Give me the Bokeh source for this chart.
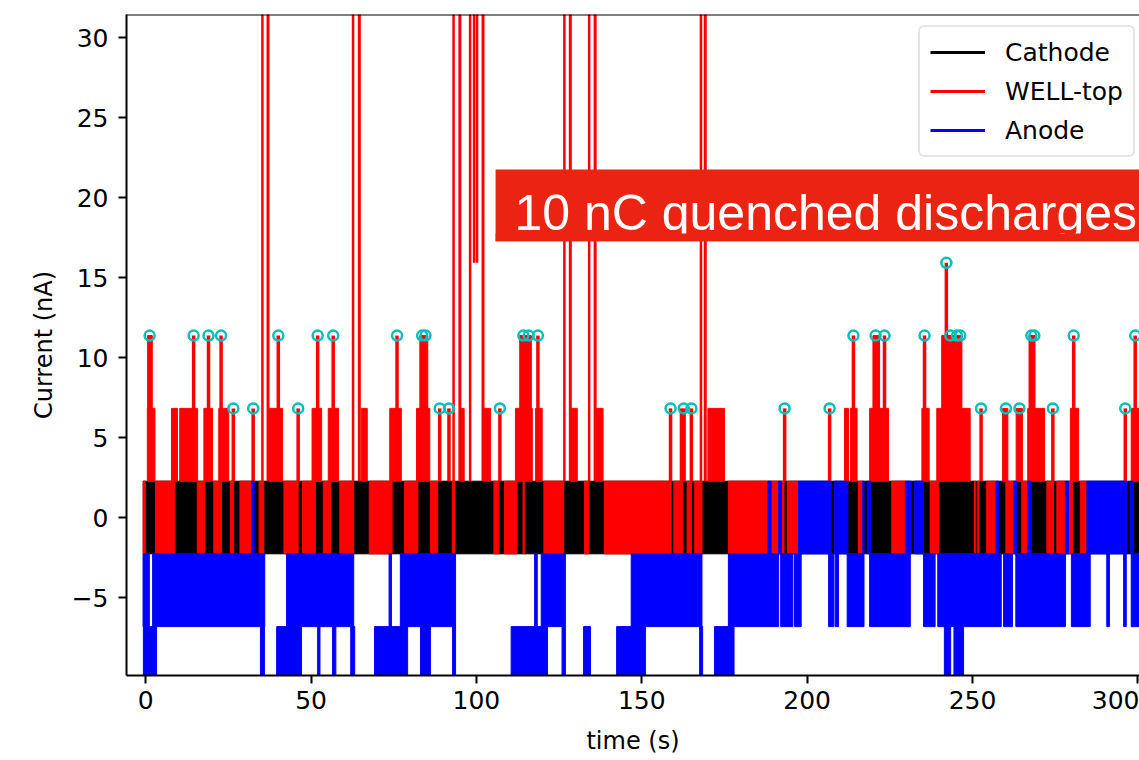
from bokeh.plotting import figure
from bokeh.models import Range1d, FixedTicker, Legend, LegendItem, BoxAnnotation, Label, Span
from bokeh.embed import file_html
from bokeh.resources import INLINE

# ---------------- data ----------------
# quantised current levels (nA)
LEVEL_M3 = -11.37
LEVEL_M2 = -6.82
LEVEL_M1 = -2.27
LEVEL_P1 = 2.27
LEVEL_P2 = 6.82
LEVEL_P3 = 11.37
LEVEL_P4 = 15.92
PULSE_TOP = 60.0

x_ticks = [0, 50, 100, 150, 200, 250, 300]
y_ticks = [-5, 0, 5, 10, 15, 20, 25, 30]

# Cathode: toggling between -2.27 and +2.27 over the whole run (s)
cathode_bands = [(-0.7, 302.0)]

# WELL-top: time intervals (s) of fast toggling between levels
well_mid = [(-0.8, -0.1), (3.0, 8.8), (15.6, 17.9), (20.6, 22.9), (25.6, 26.6), (28.5, 32.0),
            (34.3, 35.7), (41.8, 46.1), (47.4, 51.3), (53.7, 55.9), (58.7, 62.9), (67.6, 74.5),
            (78.3, 82.3), (86.1, 88.3), (92.7, 93.4), (105.3, 106.8), (108.5, 112.3), (114.1, 114.5),
            (120.4, 126.4), (132.7, 134.0), (138.7, 158.9), (159.7, 162.4), (163.7, 165.0),
            (166.0, 168.2), (176.2, 188.1), (189.1, 191.4), (192.2, 193.0), (194.0, 197.4),
            (215.5, 216.8), (225.6, 229.7), (237.2, 239.7), (250.6, 251.0), (251.6, 252.0),
            (254.3, 257.1), (260.1, 262.4), (264.9, 266.7), (272.5, 274.5), (275.5, 278.1),
            (279.0, 280.2), (282.6, 284.6)]
well_upper = [(0.5, 2.8), (7.8, 9.6), (10.3, 15.7), (17.6, 20.2), (22.1, 25.1), (37.4, 41.4),
              (50.3, 53.2), (55.2, 58.3), (65.2, 67.0), (73.8, 77.3), (81.9, 85.9), (95.2, 96.3),
              (102.4, 104.3), (111.8, 116.9), (117.9, 119.9), (128.6, 130.5), (136.0, 138.3),
              (170.0, 175.0), (211.3, 212.5), (213.1, 215.1), (218.9, 224.6), (234.7, 236.9),
              (239.2, 249.3), (259.1, 260.7), (263.2, 265.1), (266.7, 271.8), (279.6, 282.1),
              (298.0, 300.5)]
well_high = [(0.6, 2.0), (82.9, 85.3), (113.1, 116.6), (219.9, 221.9), (240.7, 246.8), (267.1, 268.9)]
# single excursions (time s, top level nA)
well_spike_t = [26.5, 32.5, 46.1, 88.9, 91.7, 107.1, 158.7, 162.0, 162.8, 165.0, 193.2, 206.8,
                252.6, 274.3, 296.2,
                14.5, 19.0, 22.8, 40.1, 52.0, 56.7, 76.0, 118.6, 214.0, 223.4, 235.5, 280.6, 299.2,
                242.1]
well_spike_v = [6.82] * 15 + [11.37] * 13 + [15.92]
# large off-scale discharges: rise and fall times (s)
pulse_rise = [35.3, 62.7, 93.1, 98.1, 126.6, 134.1, 167.9]
pulse_fall = [37.0, 64.6, 95.0, 102.0, 128.4, 135.9, 169.2]
pulse_dip = [99.3, 100.2]

# Anode
anode_mid = [(32.0, 32.8), (188.1, 189.1), (191.4, 192.2), (197.4, 207.3), (208.3, 212.3),
             (216.8, 217.2), (218.2, 219.2), (229.7, 231.5), (232.5, 235.2), (257.1, 257.9),
             (262.4, 263.4), (266.7, 267.8), (278.1, 279.0), (284.6, 296.7), (297.7, 298.7)]
anode_upper = [(-0.8, 1.1), (2.1, 36.0), (42.6, 62.9), (73.6, 74.3), (77.0, 93.7), (117.6, 118.4),
               (119.6, 126.9), (146.8, 168.2), (176.2, 191.4), (192.0, 195.7), (196.2, 198.2),
               (206.5, 208.1), (208.5, 209.5), (212.1, 217.2), (218.9, 231.2), (235.2, 238.7),
               (239.5, 258.7), (259.4, 262.1), (263.1, 278.1), (279.9, 285.6), (290.6, 291.4),
               (295.7, 296.5), (298.0, 300.5)]
anode_lower = [(-0.7, 3.3), (34.7, 35.9), (39.6, 47.1), (52.0, 52.7), (56.5, 57.5), (62.0, 63.2),
               (69.2, 79.2), (83.1, 86.1), (92.8, 93.7), (110.5, 121.5), (125.9, 126.9),
               (132.4, 134.5), (142.4, 151.1), (167.5, 168.4), (172.0, 177.9), (241.5, 243.4),
               (244.4, 247.3)]

# detected peaks (cyan markers)
peak_t = [1.2, 14.5, 19.0, 22.8, 40.1, 52.0, 56.7, 76.0, 83.6, 84.6, 114.2, 115.8, 118.6, 214.0,
          220.7, 223.4, 235.5, 243.3, 245.3, 246.3, 267.8, 268.7, 280.6, 299.2,
          26.5, 32.5, 46.1, 88.9, 91.7, 107.1, 158.7, 162.7, 165.0, 193.2, 206.8, 252.6, 260.1,
          264.2, 274.3, 296.2,
          242.1]
peak_v = [11.37] * 24 + [6.82] * 16 + [15.92]

series_names = ["Cathode", "WELL-top", "Anode"]

# ---------------- figure ----------------
p = figure(width=1139, height=760, output_backend="svg", toolbar_location=None,
           x_range=Range1d(-5.8, 300.5), y_range=Range1d(-9.875, 31.44),
           min_border_left=126, min_border_right=0, min_border_top=14, min_border_bottom=85)
p.xgrid.visible = False
p.ygrid.visible = False
p.outline_line_color = None
p.background_fill_color = "white"


def band(intervals, lo, hi, color):
    p.quad(left=[a for a, b in intervals], right=[b for a, b in intervals], bottom=lo, top=hi,
           fill_color=color, line_color=color, line_width=1)


BLACK, RED, BLUE, CYAN = "#000000", "#ff0000", "#0000ff", "#00bfbf"

band(cathode_bands, LEVEL_M1, LEVEL_P1, BLACK)

band(well_mid, LEVEL_M1, LEVEL_P1, RED)
band(well_upper, LEVEL_P1, LEVEL_P2, RED)
band(well_high, LEVEL_P2, LEVEL_P3, RED)
p.segment(x0=well_spike_t, y0=[LEVEL_P1] * len(well_spike_t), x1=well_spike_t, y1=well_spike_v,
          line_color=RED, line_width=3.5)
p.segment(x0=pulse_rise, y0=[LEVEL_P1] * len(pulse_rise), x1=pulse_rise, y1=[PULSE_TOP] * len(pulse_rise),
          line_color=RED, line_width=2.5)
p.segment(x0=pulse_fall, y0=[LEVEL_P1] * len(pulse_fall), x1=pulse_fall, y1=[PULSE_TOP] * len(pulse_fall),
          line_color=RED, line_width=3)
p.segment(x0=pulse_dip, y0=[LEVEL_P4] * len(pulse_dip), x1=pulse_dip, y1=[PULSE_TOP] * len(pulse_dip),
          line_color=RED, line_width=2.5)

band(anode_mid, LEVEL_M1, LEVEL_P1, BLUE)
band(anode_upper, LEVEL_M2, LEVEL_M1, BLUE)
band(anode_lower, LEVEL_M3, LEVEL_M2, BLUE)

p.scatter(x=peak_t, y=peak_v, size=10, marker="circle", fill_color=None, line_color=CYAN, line_width=2.5)

# legend handles (no visible data, only the key)
nan = float("nan")
handles = [p.line(x=[nan], y=[nan], line_color=c, line_width=3) for c in (BLACK, RED, BLUE)]
legend = Legend(items=[LegendItem(label=n, renderers=[h]) for n, h in zip(series_names, handles)],
                location=(792, 518), margin=0, padding=10, spacing=9,
                glyph_width=55, glyph_height=30, label_height=30, label_standoff=20,
                label_text_font="DejaVu Sans", label_text_font_size="25px", label_text_color="black",
                border_line_color="#cccccc", border_line_width=2,
                background_fill_color="white", background_fill_alpha=0.85)
if "border_radius" in Legend.properties():
    legend.border_radius = 6
p.add_layout(legend)

# axes
p.xaxis.ticker = FixedTicker(ticks=x_ticks)
p.yaxis.ticker = FixedTicker(ticks=y_ticks)
p.yaxis.major_label_overrides = {-5: "\u22125"}
p.xaxis.axis_label = "time (s)"
p.yaxis.axis_label = "Current (nA)"
for ax in (p.xaxis[0], p.yaxis[0]):
    ax.axis_line_width = 2
    ax.major_tick_line_width = 2
    ax.major_tick_out = 8
    ax.major_tick_in = 0
    ax.minor_tick_line_color = None
    ax.major_label_text_font = "DejaVu Sans"
    ax.major_label_text_font_size = "25px"
    ax.major_label_text_color = "black"
    ax.axis_label_text_font = "DejaVu Sans"
    ax.axis_label_text_font_size = "24px"
    ax.axis_label_text_font_style = "normal"
    ax.axis_label_text_color = "black"
p.xaxis.major_label_standoff = 7
p.yaxis.major_label_standoff = 10
p.xaxis.axis_label_standoff = 15
p.yaxis.axis_label_standoff = 11

p.add_layout(Span(location=31.44, dimension="width", line_color="black", line_width=2))

# annotation banner
p.add_layout(BoxAnnotation(left=105.8, right=400.0, top=21.75, bottom=17.27,
                           fill_color="#eb2312", fill_alpha=1.0, line_color=None))
p.add_layout(Label(x=111.5, y=19.06, text="10 nC quenched discharges", text_color="white",
                   text_font="Liberation Sans", text_font_size="50px", text_baseline="alphabetic"))
p.add_layout(BoxAnnotation(left=105.8, right=400.0, top=17.75, bottom=17.27,
                           fill_color="#eb2312", fill_alpha=1.0, line_color=None))

open("out.html", "w").write(file_html(p, INLINE))
